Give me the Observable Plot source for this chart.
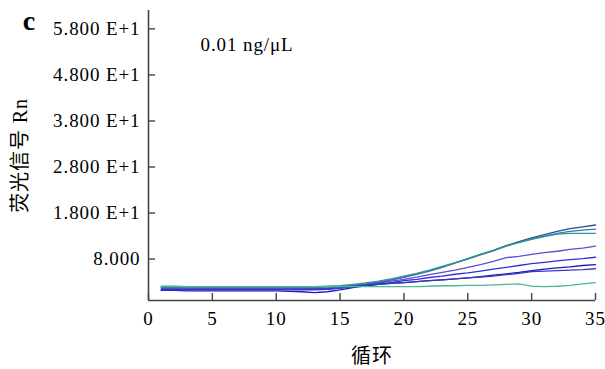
<!DOCTYPE html>
<html>
<head>
<meta charset="utf-8">
<script src="https://cdn.jsdelivr.net/npm/d3@7"></script>
<script src="https://cdn.jsdelivr.net/npm/@observablehq/plot@0.6"></script>
<style>
  html, body { margin: 0; padding: 0; background: #fff; }
  svg text { letter-spacing: 0.9px; }
</style>
</head>
<body>
<script>
const cycles = d3.range(1, 36);
const seriesNames = ["A", "B", "C", "D", "E", "F", "G", "H"];
const seriesColors = ["#1f4e94", "#4a6fb0", "#2a9a8c", "#5a4fd6", "#3030d8", "#1818c8", "#3a3ab8", "#4cb89a"];
const sA = [1.8,1.8,1.7,1.7,1.7,1.7,1.7,1.7,1.7,1.7,1.7,1.6,1.6,1.7,1.9,2.2,2.6,3.0,3.5,4.1,4.8,5.5,6.3,7.2,8.1,9.0,9.9,10.9,11.8,12.6,13.3,14.0,14.6,15.0,15.4];
const sB = [1.9,1.9,1.9,1.8,1.8,1.8,1.8,1.8,1.8,1.8,1.8,1.8,1.8,1.9,2.0,2.3,2.6,3.0,3.5,4.0,4.7,5.4,6.2,7.1,8.0,8.9,9.8,10.8,11.6,12.4,13.0,13.6,14.0,14.3,14.5];
const sC = [2.1,2.1,2.0,2.0,2.0,2.0,2.0,2.0,2.0,2.0,2.0,2.0,2.0,2.1,2.2,2.5,2.8,3.2,3.7,4.3,4.9,5.6,6.4,7.2,8.1,9.0,9.9,10.8,11.6,12.3,12.9,13.4,13.6,13.6,13.6];
const sD = [1.6,1.6,1.5,1.5,1.5,1.5,1.5,1.5,1.5,1.5,1.5,1.5,1.5,1.6,1.8,2.1,2.4,2.8,3.2,3.6,4.1,4.6,5.1,5.6,6.2,6.8,7.5,8.3,8.6,9.0,9.4,9.7,10.1,10.4,10.8];
const sE = [1.4,1.4,1.4,1.4,1.4,1.4,1.4,1.4,1.4,1.4,1.4,1.4,1.4,1.5,1.7,2.0,2.3,2.6,2.9,3.3,3.6,4.0,4.3,4.7,5.0,5.4,5.8,6.2,6.6,7.0,7.3,7.6,7.9,8.1,8.4];
const sF = [1.2,1.2,1.1,1.1,1.1,1.1,1.1,1.1,1.1,1.1,1.0,0.9,0.7,0.9,1.3,1.8,2.2,2.5,2.7,2.9,3.1,3.3,3.5,3.7,3.9,4.2,4.5,4.8,5.1,5.5,5.8,6.1,6.3,6.6,6.8];
const sG = [1.3,1.3,1.3,1.3,1.3,1.3,1.3,1.3,1.3,1.3,1.3,1.3,1.3,1.4,1.7,2.0,2.3,2.5,2.7,2.9,3.1,3.3,3.5,3.7,3.9,4.1,4.3,4.6,4.9,5.3,5.4,5.5,5.6,5.7,5.9];
const sH = [2.0,2.0,2.0,2.0,2.0,2.0,2.0,2.0,2.0,2.0,2.0,2.0,2.0,2.0,2.0,2.0,2.0,2.0,2.0,2.0,2.0,2.1,2.2,2.2,2.3,2.3,2.4,2.5,2.6,2.1,2.0,2.1,2.3,2.6,2.9];
const seriesValues = [sA, sB, sC, sD, sE, sF, sG, sH];
const xTicks = [0, 5, 10, 15, 20, 25, 30, 35];
const yTicks = [8, 18, 28, 38, 48, 58];
const yTickLabels = ["8.000", "1.800 E+1", "2.800 E+1", "3.800 E+1", "4.800 E+1", "5.800 E+1"];
const xDomain = [0, 35];
const yDomain = [-1, 62];
const panelLetter = "c";
const annotation = "0.01 ng/μL";
const xLabel = "循环";
const yLabel = "荧光信号 Rn";

const rows = [];
seriesNames.forEach((name, i) => {
  seriesValues[i].forEach((v, j) => rows.push({series: name, cycle: cycles[j], value: v}));
});

const serif = "'Liberation Serif', 'Times New Roman', 'Noto Sans CJK SC', serif";
const axisColor = "#444";

const chart = Plot.plot({
  width: 605,
  height: 369,
  marginLeft: 148,
  marginRight: 10,
  marginTop: 10,
  marginBottom: 69,
  x: {domain: xDomain},
  y: {domain: yDomain},
  color: {domain: seriesNames, range: seriesColors},
  style: {fontFamily: serif, fontSize: "19px", background: "#fff", color: "#000"},
  marks: [
    Plot.line(rows, {x: "cycle", y: "value", z: "series", stroke: "series", strokeWidth: 1.3}),
    Plot.ruleX([xDomain[0]], {stroke: axisColor, strokeWidth: 1.6}),
    Plot.ruleY([yDomain[0]], {stroke: axisColor, strokeWidth: 1.6}),
    Plot.ruleX(xTicks, {x: d => d, y1: yDomain[0], y2: yDomain[0], insetTop: -7, stroke: axisColor, strokeWidth: 1.4}),
    Plot.ruleY(yTicks, {y: d => d, x1: xDomain[0], x2: xDomain[0], insetRight: -7, stroke: axisColor, strokeWidth: 1.4}),
    Plot.axisX({ticks: xTicks, tickSize: 0, tickPadding: 11, label: null, fontSize: 19}),
    Plot.axisY({ticks: yTicks, tickSize: 0, tickPadding: 8, label: null, fontSize: 19,
      tickFormat: d => yTickLabels[yTicks.indexOf(d)]}),
    Plot.text([annotation], {frameAnchor: "top-left", dx: 52, dy: 34, textAnchor: "start", lineAnchor: "middle", fontSize: 19, text: d => d}),
    Plot.text([panelLetter], {frameAnchor: "top-left", dx: -119, dy: 11, textAnchor: "middle", lineAnchor: "middle", fontSize: 28, fontWeight: "bold", text: d => d}),
    Plot.text([xLabel], {frameAnchor: "bottom", dy: 56, textAnchor: "middle", lineAnchor: "middle", fontSize: 20, fontFamily: "'Noto Sans CJK SC', sans-serif", text: d => d}),
    Plot.text([yLabel], {frameAnchor: "left", dx: -128, rotate: -90, textAnchor: "middle", lineAnchor: "middle", fontSize: 20, text: d => d})
  ]
});
document.body.appendChild(chart);
</script>
</body>
</html>
